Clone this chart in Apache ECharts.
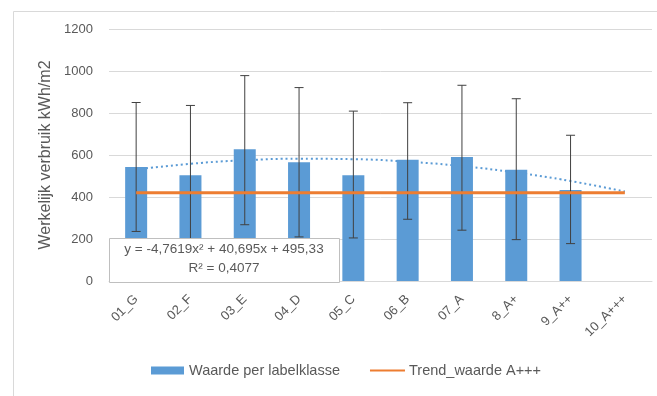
<!DOCTYPE html>
<html>
<head>
<meta charset="utf-8">
<script src="https://cdn.jsdelivr.net/npm/echarts@6/dist/echarts.min.js"></script>
<style>
html,body{margin:0;padding:0;background:#fff;}
#c{width:657px;height:396px;}
</style>
</head>
<body>
<div id="c"></div>
<script>
const categories = ['01_G','02_F','03_E','04_D','05_C','06_B','07_A','8_A+','9_A++','10_A+++'];
const barValues = [543, 503, 627, 565, 503, 577, 590, 530, 433, null];
const errLow = [236, 172, 268, 210, 205, 294, 242, 197, 178, null];
const errHigh = [850, 836, 978, 921, 809, 849, 932, 868, 694, null];
const trendA = [420, 420, 420, 420, 420, 420, 420, 420, 420, 420];
const polyTrend = [531, 558, 575, 582, 580, 568, 547, 516, 476, 426];
const yTicks = [0, 200, 400, 600, 800, 1000, 1200];
const equationLines = ['y = -4,7619x\u00B2 + 40,695x + 495,33', 'R\u00B2 = 0,4077'];

const FONT = '"Liberation Sans", "Open Sans", sans-serif';
const GRAY = '#595959';
const chart = echarts.init(document.getElementById('c'), null, {renderer: 'canvas'});

const errData = categories.map((c, i) => [i, errLow[i], errHigh[i]]).filter(d => d[1] != null);

chart.setOption({
  animation: false,
  backgroundColor: '#fff',
  textStyle: {fontFamily: FONT},
  grid: {left: 109, right: 5, top: 29, bottom: 115, containLabel: false},
  legend: {
    bottom: 13,
    left: 146,
    itemGap: 30,
    itemWidth: 33,
    itemHeight: 8,
    textStyle: {color: GRAY, fontSize: 14.5, fontFamily: FONT},
    data: [
      {name: 'Waarde per labelklasse', icon: 'rect'},
      {name: 'Trend_waarde A+++', icon: 'path://M0,0 L40,0 L40,0.1 L0,0.1 Z'}
    ]
  },
  xAxis: {
    type: 'category',
    data: categories,
    axisLine: {lineStyle: {color: '#d9d9d9'}},
    axisTick: {show: false},
    axisLabel: {rotate: 45, color: GRAY, fontSize: 13, margin: 16, interval: 0}
  },
  yAxis: {
    type: 'value',
    min: yTicks[0],
    max: yTicks[yTicks.length - 1],
    interval: 200,
    name: 'Werkelijk verbruik kWh/m2',
    nameLocation: 'middle',
    nameGap: 54,
    nameTextStyle: {color: GRAY, fontSize: 16, fontFamily: FONT},
    axisLine: {show: false},
    axisTick: {show: false},
    axisLabel: {color: GRAY, fontSize: 13, margin: 16, formatter: v => String(v)},
    splitLine: {lineStyle: {color: '#d9d9d9'}}
  },
  series: [
    {
      name: 'Waarde per labelklasse',
      type: 'bar',
      data: barValues,
      barWidth: 22,
      itemStyle: {color: '#5b9bd5'},
      z: 2
    },
    {
      name: 'poly',
      type: 'line',
      data: polyTrend,
      smooth: true,
      symbol: 'none',
      lineStyle: {color: '#5b9bd5', width: 2, type: [2, 3]},
      z: 3
    },
    {
      name: 'err',
      type: 'custom',
      data: errData,
      z: 4,
      renderItem: function (params, api) {
        const x = api.value(0);
        const lo = api.coord([x, api.value(1)]);
        const hi = api.coord([x, api.value(2)]);
        const cap = 4.5;
        const st = {stroke: '#404040', lineWidth: 1};
        return {
          type: 'group',
          children: [
            {type: 'line', shape: {x1: lo[0], y1: lo[1], x2: hi[0], y2: hi[1]}, style: st},
            {type: 'line', shape: {x1: lo[0] - cap, y1: lo[1], x2: lo[0] + cap, y2: lo[1]}, style: st},
            {type: 'line', shape: {x1: hi[0] - cap, y1: hi[1], x2: hi[0] + cap, y2: hi[1]}, style: st}
          ]
        };
      }
    },
    {
      name: 'Trend_waarde A+++',
      type: 'line',
      data: trendA,
      symbol: 'none',
      lineStyle: {color: '#ed7d31', width: 3},
      itemStyle: {color: '#ed7d31', borderColor: '#ed7d31', borderWidth: 2.5},
      z: 5
    }
  ],
  graphic: [
    {
      type: 'rect',
      left: 11, top: 9,
      shape: {width: 660, height: 400},
      style: {fill: 'none', stroke: '#d9d9d9', lineWidth: 1},
      silent: true, z: 0
    },
    {
      type: 'rect', x: 109.5, y: 238.5, z: 100, zlevel: 1,
      shape: {width: 230, height: 44},
      style: {fill: '#fff', stroke: '#bfbfbf', lineWidth: 1}
    },
    {
      type: 'text', x: 224, y: 242, z: 101, zlevel: 1,
      style: {text: equationLines[0], fill: GRAY, font: '13.5px ' + FONT, textAlign: 'center'}
    },
    {
      type: 'text', x: 224, y: 261, z: 101, zlevel: 1,
      style: {text: equationLines[1], fill: GRAY, font: '13.5px ' + FONT, textAlign: 'center'}
    }
  ]
});
</script>
</body>
</html>
